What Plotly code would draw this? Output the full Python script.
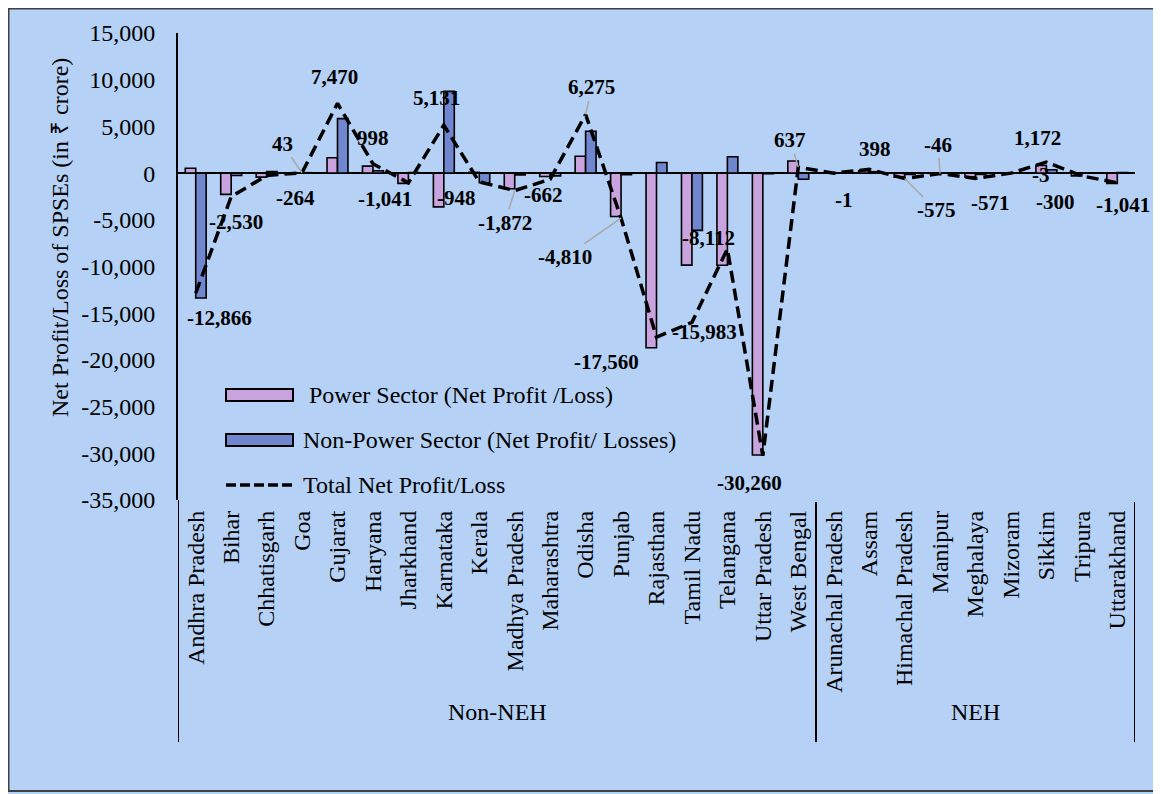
import plotly.graph_objects as go

# ---------------- data ----------------
states = ["Andhra Pradesh", "Bihar", "Chhatisgarh", "Goa", "Gujarat", "Haryana",
          "Jharkhand", "Karnataka", "Kerala", "Madhya Pradesh", "Maharashtra",
          "Odisha", "Punjab", "Rajasthan", "Tamil Nadu", "Telangana",
          "Uttar Pradesh", "West Bengal",
          "Arunachal Pradesh", "Assam", "Himachal Pradesh", "Manipur",
          "Meghalaya", "Mizoram", "Sikkim", "Tripura", "Uttarakhand"]
group_names = ["Non-NEH", "NEH"]
group_sizes = [18, 9]

power = [514, -2280, -430, 0, 1640, 750, -1100, -3620, 80, -1680, -360, 1800,
         -4640, -18700, -9850, -9870, -30190, 1300,
         -1, 250, -430, -46, -430, -3, 820, -300, -1100]
non_power = [-13380, -250, 166, 43, 5830, 248, 59, 8751, -1028, -192, -302, 4475,
             -170, 1140, -6133, 1758, -70, -663,
             0, 148, -145, 0, -141, 0, 352, 0, 59]
total = [-12866, -2530, -264, 43, 7470, 998, -1041, 5131, -948, -1872, -662, 6275,
         -4810, -17560, -15983, -8112, -30260, 637,
         -1, 398, -575, -46, -571, -3, 1172, -300, -1041]

y_ticks = [15000, 10000, 5000, 0, -5000, -10000, -15000, -20000, -25000, -30000, -35000]

series_names = ["Power Sector (Net Profit /Loss)",
                "Non-Power Sector (Net Profit/ Losses)",
                "Total Net Profit/Loss"]
y_title = "Net Profit/Loss of SPSEs (in ₹ crore)"

# ---------------- styles ----------------
FONT = "Liberation Serif, Times New Roman, serif"
FS = 24
BG = "#b5d1f6"
PINK = "#c9a3de"
BLUE = "#7086cf"
LEADER = "#a8a8a8"

# data label offsets (pixels, text centre relative to point) and leader flags
label_dx = [24, 5, 29, -20, -3, 0, -23, -7, -23, -10, -7, 6, -56, -50, 13, -19, -13, -8,
            10, 6, 32, -2, 15, 30, -9, -26, 6]
label_dy = [25, 25, 22, -29, -26, -26, 16, -27, 16, 32, 16, -27, 39, 25, 10, -11, 27, -27,
            27, -20, 32, -29, 25, 2, -24, 26, 22]
leader = [False, False, False, True, False, False, False, False, False, True, False, True,
          True, False, False, False, False, True,
          False, False, True, True, False, False, False, False, False]

# geometry: page is offset by the 8px body margin
OFF = 8
W, H = 1153, 786
L, T = 178 - OFF, 33 - OFF
PW = 957
PH = 467
R = W - L - PW
B = H - T - PH


def px(x):  # page pixel -> paper x
    return (x - OFF - L) / PW


def py(y):  # page pixel -> paper y
    return (T + PH - (y - OFF)) / PH


fig = go.Figure()
fig.add_trace(go.Bar(x=states, y=power, name=series_names[0], marker_color=PINK,
                     marker_line_color="black", marker_line_width=1.6, showlegend=False))
fig.add_trace(go.Bar(x=states, y=non_power, name=series_names[1], marker_color=BLUE,
                     marker_line_color="black", marker_line_width=1.6, showlegend=False))
fig.add_trace(go.Scatter(x=states, y=total, name=series_names[2], mode="lines",
                         line=dict(color="black", width=3.5, dash="12px,6px"),
                         showlegend=False))

shapes = []
# figure frame / background
shapes.append(dict(type="rect", xref="paper", yref="paper", layer="below",
                   x0=px(8.5), x1=px(1180), y0=py(791), y1=py(8.5),
                   fillcolor=BG, line=dict(color="#404040", width=2)))
# group dividers
bounds = [-0.5]
for s in group_sizes:
    bounds.append(bounds[-1] + s)
for i, b in enumerate(bounds):
    shapes.append(dict(type="line", xref="x", yref="paper", x0=b, x1=b,
                       y0=0 if i == 0 else py(502), y1=py(742),
                       line=dict(color="black", width=2)))

annotations = []
# group labels
for i, g in enumerate(group_names):
    annotations.append(dict(x=(bounds[i] + bounds[i + 1]) / 2, y=py(727), xref="x", yref="paper",
                            text=g, showarrow=False, font=dict(family=FONT, size=FS, color="black")))

# data labels (bold)
for i, s in enumerate(states):
    annotations.append(dict(x=s, y=total[i], xref="x", yref="y", text=f"<b>{total[i]:,}</b>",
                            showarrow=True, arrowhead=0, arrowwidth=1.5,
                            arrowcolor=LEADER if leader[i] else "rgba(0,0,0,0)",
                            ax=label_dx[i], ay=label_dy[i],
                            font=dict(family=FONT, size=21, color="black")))

# manual legend
leg_rows = [(395, PINK), (440, BLUE), (485, None)]
leg_text_x = [307, 301, 301]
for k, (yc, col) in enumerate(leg_rows):
    if col is not None:
        shapes.append(dict(type="rect", xref="paper", yref="paper",
                           x0=px(226), x1=px(293), y0=py(yc + 6), y1=py(yc - 6),
                           fillcolor=col, line=dict(color="black", width=2)))
    else:
        shapes.append(dict(type="line", xref="paper", yref="paper",
                           x0=px(226), x1=px(296), y0=py(yc), y1=py(yc),
                           line=dict(color="black", width=3.5, dash="10px,4px")))
    annotations.append(dict(x=px(leg_text_x[k]), y=py(yc), xref="paper", yref="paper",
                            xanchor="left", yanchor="middle", showarrow=False,
                            text=series_names[k], font=dict(family=FONT, size=FS, color="black")))

# y axis title
annotations.append(dict(x=px(45), y=py(238), xref="paper", yref="paper", text=y_title,
                        textangle=-90, showarrow=False,
                        font=dict(family=FONT, size=FS, color="black")))

fig.update_layout(
    width=W, height=H,
    margin=dict(l=L, r=R, t=T, b=B, autoexpand=False),
    paper_bgcolor=BG, plot_bgcolor="rgba(0,0,0,0)",
    barmode="group", bargap=0.41, bargroupgap=0,
    font=dict(family=FONT, size=FS, color="black"),
    shapes=shapes, annotations=annotations,
    xaxis=dict(type="category", range=[-0.5, len(states) - 0.5], tickangle=-90,
               showline=False, showgrid=False, zeroline=False, ticks="",
               tickfont=dict(family=FONT, size=FS, color="black"),
               ticklabelstandoff=5, automargin=False),
    yaxis=dict(range=[-35000, 15000], tickvals=y_ticks, ticktext=[f"{v:,}" for v in y_ticks],
               showline=True, linecolor="black", linewidth=2, showgrid=False,
               zeroline=True, zerolinecolor="black", zerolinewidth=2, ticks="",
               tickfont=dict(family=FONT, size=FS, color="black"),
               ticklabelstandoff=16, automargin=False),
)

fig.write_html("out.html")
